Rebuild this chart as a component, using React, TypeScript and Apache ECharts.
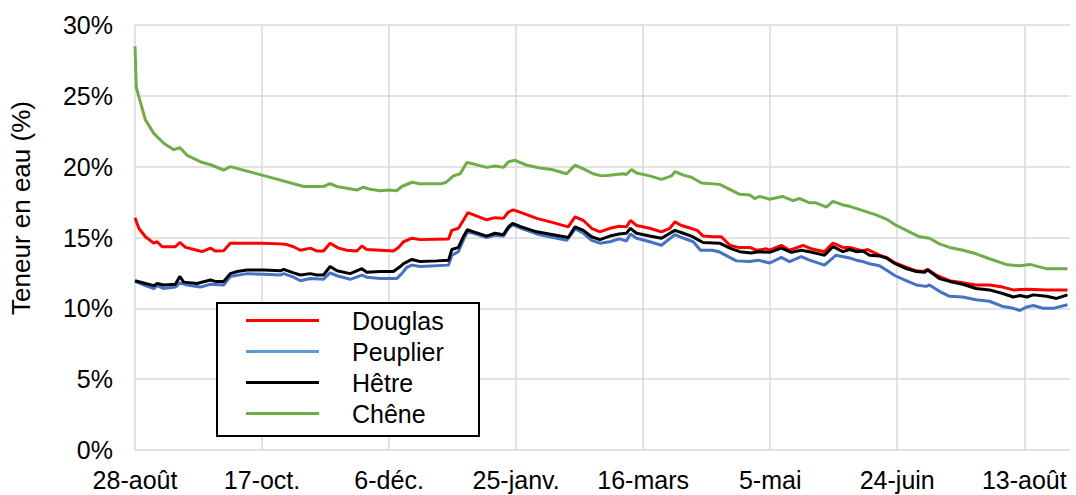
import React, { useEffect, useRef } from 'react';
import * as echarts from 'echarts';

const xTickLabels = ['28-août', '17-oct.', '6-déc.', '25-janv.', '16-mars', '5-mai', '24-juin', '13-août'];
const seriesNames = ['Douglas', 'Peuplier', 'Hêtre', 'Chêne'];
const seriesColors = ['#ff0000', '#4472c4', '#000000', '#70ad47'];
const legendColors = ['#ff0000', '#5b9bd5', '#000000', '#70ad47'];

// days since 28-août
const douglasDays = [0, 1.5, 4.1, 7.4, 8.7, 10.7, 15.9, 17.6, 19.9, 24.4, 26.4, 29.7, 31.6, 34.9, 37.5, 44.1, 50, 57.2, 59.8, 62.4, 65.1, 69, 71.5, 74.2, 76.8, 80.1, 83.4, 87.3, 89.3, 91.2, 96.5, 101.7, 103.7, 105.7, 109, 112.3, 123.4, 124.7, 127.3, 129.2, 131, 133.3, 138.4, 141.7, 145, 147, 148.9, 152, 158.1, 164.6, 170.5, 173.2, 176.5, 179.7, 183, 186.9, 190.6, 193.4, 195, 197.4, 202.6, 207.2, 210.5, 212.5, 215.1, 218.7, 221.3, 223.6, 227.5, 230.8, 234.1, 237.4, 242, 244.6, 248.5, 249.8, 254.4, 257.6, 263, 266.2, 271.4, 274.7, 278.6, 281.3, 286.5, 288.4, 293, 295.7, 299.2, 303.5, 307.5, 310.1, 312, 315.3, 320.6, 325.8, 331, 336.3, 341.5, 345.7, 351, 358.8, 367];
const douglasValues = [16.4, 15.65, 15.05, 14.6, 14.7, 14.35, 14.35, 14.65, 14.3, 14.1, 14.0, 14.25, 14.05, 14.07, 14.6, 14.6, 14.6, 14.55, 14.5, 14.35, 14.1, 14.25, 14.05, 14.05, 14.6, 14.25, 14.1, 14.05, 14.4, 14.15, 14.1, 14.05, 14.3, 14.7, 14.95, 14.85, 14.9, 15.5, 15.65, 16.2, 16.75, 16.6, 16.25, 16.4, 16.35, 16.8, 16.95, 16.75, 16.35, 16.05, 15.75, 16.45, 16.2, 15.65, 15.4, 15.65, 15.8, 15.75, 16.2, 15.85, 15.65, 15.4, 15.65, 16.1, 15.85, 15.65, 15.5, 15.1, 15.05, 15.05, 14.45, 14.3, 14.3, 14.1, 14.2, 14.1, 14.45, 14.1, 14.45, 14.2, 14.0, 14.6, 14.3, 14.3, 14.05, 14.15, 13.75, 13.6, 13.2, 12.9, 12.65, 12.6, 12.75, 12.35, 11.95, 11.8, 11.65, 11.65, 11.5, 11.3, 11.35, 11.3, 11.3];

const peuplierDays = [0, 4.1, 7.4, 8.7, 11.3, 15.9, 17.6, 20.5, 25.7, 29.7, 34.9, 37.5, 44.1, 50.7, 57.2, 58.5, 62.4, 65.1, 69, 74.2, 76.8, 79.5, 84.7, 89.3, 91.2, 96.5, 103, 105, 107, 109, 112.3, 123.4, 124.7, 127.3, 129.2, 130.8, 133.3, 138.4, 141.7, 145, 147, 148.6, 152, 158.1, 164.6, 169.9, 173.2, 176.5, 179.7, 183, 186.9, 190.6, 193.4, 195, 197.4, 202.6, 207.2, 212.5, 215.8, 219.7, 222.6, 227.2, 229.8, 236.7, 241.9, 245.2, 249.8, 254.4, 257.6, 262.2, 265.5, 271.4, 275.9, 281.3, 283.9, 286.5, 289.1, 293, 295.7, 299.2, 303.5, 307.5, 311.4, 312.7, 316.6, 320.6, 325.8, 331, 336.3, 341.2, 345.7, 348.3, 351, 353.6, 357.5, 361.4, 367];
const peuplierValues = [11.9, 11.6, 11.4, 11.6, 11.4, 11.5, 11.8, 11.65, 11.5, 11.7, 11.65, 12.25, 12.45, 12.4, 12.35, 12.45, 12.2, 11.95, 12.1, 12.05, 12.5, 12.3, 12.05, 12.35, 12.2, 12.1, 12.1, 12.45, 12.9, 13.05, 12.95, 13.05, 13.75, 14.0, 14.8, 15.4, 15.3, 15.0, 15.15, 15.1, 15.65, 15.9, 15.65, 15.25, 15.0, 14.8, 15.6, 15.3, 14.8, 14.6, 14.7, 14.9, 14.75, 15.25, 14.95, 14.7, 14.45, 15.2, 14.95, 14.7, 14.1, 14.1, 14.0, 13.35, 13.3, 13.4, 13.2, 13.6, 13.3, 13.65, 13.4, 13.05, 13.75, 13.55, 13.4, 13.3, 13.15, 13.0, 12.7, 12.3, 11.95, 11.65, 11.55, 11.65, 11.2, 10.85, 10.8, 10.6, 10.5, 10.15, 10.0, 9.85, 10.1, 10.2, 10.0, 10.0, 10.25];

const hetreDays = [0, 4.1, 7.4, 8.7, 11.3, 15.9, 17.6, 19.2, 24.4, 29.7, 31.6, 34.9, 37.5, 40.2, 44.1, 50.7, 57.2, 58.5, 62.4, 65.1, 69, 71.5, 74.2, 76.8, 79.5, 84.7, 89.3, 91.2, 96.5, 101.7, 104.4, 105.7, 109, 112.3, 118.8, 123.4, 124.7, 127.3, 129.2, 130.8, 133.3, 138.4, 141.7, 145, 147, 148.6, 152, 158.1, 164.6, 170.5, 173.2, 176.5, 179.7, 183, 186.9, 190.6, 193.4, 195, 197.4, 202.6, 207.2, 212.5, 215.8, 219, 223.6, 230.1, 234.1, 238, 242.6, 245.2, 249.8, 254.4, 258.3, 262.2, 265.5, 271.4, 274.7, 278.6, 281.3, 283.9, 286.5, 289.1, 293, 295.7, 299.2, 303.5, 307.5, 310.8, 312, 316.6, 320.6, 325.8, 331, 336.3, 341.5, 345.7, 348.3, 351, 353.6, 358.8, 362.7, 367];
const hetreValues = [11.95, 11.75, 11.6, 11.75, 11.65, 11.7, 12.25, 11.85, 11.75, 12.0, 11.9, 11.9, 12.45, 12.6, 12.7, 12.7, 12.65, 12.75, 12.5, 12.35, 12.45, 12.35, 12.35, 12.95, 12.65, 12.45, 12.8, 12.55, 12.6, 12.6, 12.95, 13.15, 13.45, 13.3, 13.35, 13.4, 14.15, 14.3, 15.05, 15.55, 15.4, 15.1, 15.3, 15.2, 15.75, 16.0, 15.75, 15.4, 15.2, 15.0, 15.75, 15.5, 15.05, 14.85, 15.1, 15.25, 15.3, 15.65, 15.3, 15.1, 14.95, 15.5, 15.3, 15.1, 14.65, 14.6, 14.25, 14.0, 13.9, 14.0, 13.95, 14.25, 13.95, 14.1, 14.0, 13.75, 14.35, 14.0, 14.15, 14.0, 14.05, 13.75, 13.7, 13.55, 13.15, 12.8, 12.6, 12.55, 12.7, 12.1, 11.9, 11.7, 11.4, 11.3, 11.05, 10.8, 10.9, 10.8, 10.95, 10.85, 10.7, 10.95];

const cheneDays = [0, 0.5, 2.2, 4.1, 7.4, 11.3, 15.3, 17.6, 20.5, 25.7, 30.3, 34.9, 37.5, 50, 57.2, 66.4, 74.2, 76.8, 79.5, 87.3, 89.9, 92.6, 96.5, 100, 103, 105, 109, 112, 120.8, 122.5, 125.3, 128, 130.6, 133, 138.4, 141.7, 145, 147, 149.6, 154.2, 159.4, 164, 169.9, 171, 173.2, 176.5, 180.3, 183.6, 186.9, 192.1, 193.4, 195.4, 197.4, 202.6, 207.2, 211.2, 212.5, 215.8, 219, 223, 230.1, 234.1, 238, 242, 243.9, 245.9, 249.8, 254.8, 259, 261.6, 265.5, 268, 272.1, 274.7, 278.6, 281.3, 286.5, 291.7, 295.7, 299.2, 304.8, 308.8, 312.7, 316.6, 320.6, 326, 331, 336.3, 342.8, 348.3, 352.2, 358.6, 367];
const cheneValues = [28.5, 25.6, 24.5, 23.3, 22.35, 21.65, 21.2, 21.35, 20.8, 20.35, 20.1, 19.75, 20.0, 19.4, 19.05, 18.6, 18.6, 18.8, 18.6, 18.35, 18.55, 18.4, 18.3, 18.35, 18.3, 18.6, 18.9, 18.8, 18.8, 18.9, 19.35, 19.5, 20.3, 20.2, 19.95, 20.05, 19.95, 20.35, 20.45, 20.1, 19.9, 19.8, 19.5, 19.7, 20.1, 19.85, 19.5, 19.35, 19.4, 19.5, 19.45, 19.8, 19.55, 19.35, 19.1, 19.35, 19.65, 19.4, 19.25, 18.85, 18.75, 18.4, 18.05, 18.0, 17.75, 17.9, 17.7, 17.9, 17.6, 17.75, 17.45, 17.45, 17.15, 17.55, 17.3, 17.2, 16.9, 16.6, 16.3, 15.9, 15.4, 15.05, 14.95, 14.55, 14.3, 14.1, 13.85, 13.5, 13.1, 13.0, 13.1, 12.8, 12.8];

const seriesDays = [douglasDays, peuplierDays, hetreDays, cheneDays];
const seriesValues = [douglasValues, peuplierValues, hetreValues, cheneValues];

const FONT = "'Liberation Sans', Arial, sans-serif";

export default function App() {
  const ref = useRef<HTMLDivElement>(null);
  useEffect(() => {
    document.body.style.margin = '0';
    if (!ref.current) return;
    const chart = echarts.init(ref.current, undefined, { renderer: 'svg' });
    chart.setOption({
      animation: false,
      backgroundColor: '#ffffff',
      textStyle: { fontFamily: FONT },
      grid: { left: 134.5, right: 6, top: 25, bottom: 45 },
      xAxis: {
        type: 'value',
        min: 0,
        max: 368,
        interval: 50,
        axisLine: { show: false },
        axisTick: { show: false },
        splitLine: { show: true, showMaxLine: false, lineStyle: { color: '#d9d9d9', width: 1.5 } },
        axisLabel: {
          showMaxLabel: false,
          fontSize: 25,
          color: '#000',
          fontFamily: FONT,
          margin: 17,
          formatter: (v: number) => (v % 50 === 0 ? xTickLabels[v / 50] ?? '' : ''),
        },
      },
      yAxis: {
        type: 'value',
        min: 0,
        max: 30,
        interval: 5,
        name: 'Teneur en eau (%)',
        nameLocation: 'middle',
        nameGap: 101,
        nameTextStyle: { fontSize: 26, color: '#000', fontFamily: FONT, padding: [0, 0, 0, 59] },
        axisLine: { show: false },
        axisTick: { show: false },
        splitLine: { show: true, lineStyle: { color: '#d9d9d9', width: 1.5 } },
        axisLabel: { fontSize: 25, color: '#000', fontFamily: FONT, margin: 22, formatter: '{value}%' },
      },
      legend: {
        orient: 'vertical',
        left: 217,
        top: 303,
        padding: [2, 31, 7, 29],
        borderColor: '#000',
        borderWidth: 2,
        backgroundColor: '#fff',
        itemWidth: 73,
        itemHeight: 3,
        itemGap: 0,
        icon: 'rect',
        selectedMode: false,
        textStyle: { fontSize: 25, color: '#000', fontFamily: FONT, lineHeight: 31, padding: [0, 0, 0, 28], width: 96 },
        data: seriesNames.map((n, i) => ({ name: n, itemStyle: { color: legendColors[i] } })),
      },
      series: seriesNames.map((n, i) => ({
        name: n,
        type: 'line',
        symbol: 'none',
        showSymbol: false,
        color: seriesColors[i],
        lineStyle: { color: seriesColors[i], width: 3 },
        data: seriesDays[i].map((d, j) => [d, seriesValues[i][j]]),
      })),
    });
    return () => chart.dispose();
  }, []);
  return <div ref={ref} style={{ width: 1076, height: 495 }} />;
}
